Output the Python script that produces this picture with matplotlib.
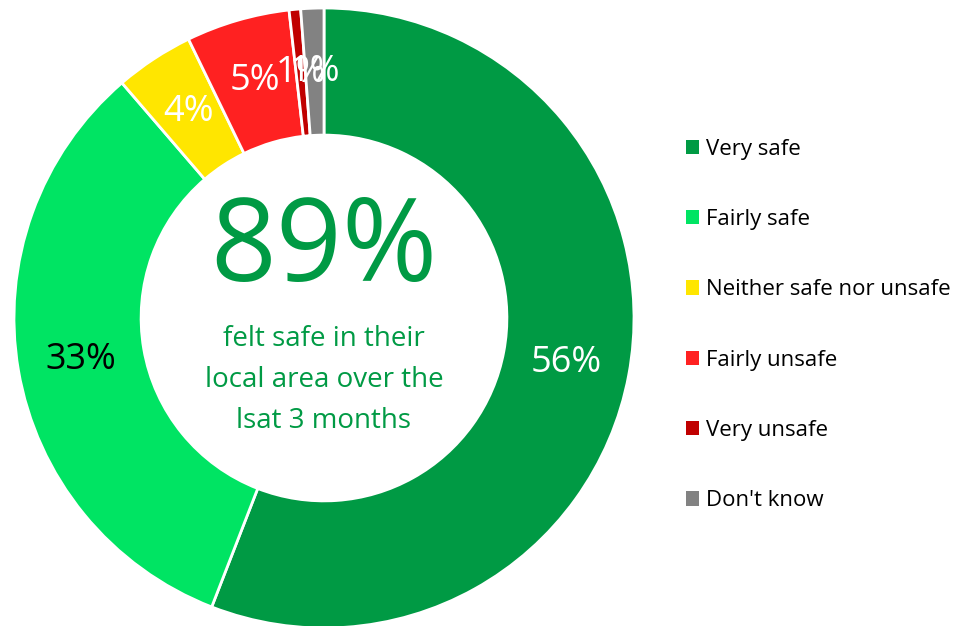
import matplotlib.pyplot as plt
from matplotlib.patches import Patch

plt.rcParams["font.family"] = ["Open Sans", "DejaVu Sans"]

categories = ["Very safe", "Fairly safe", "Neither safe nor unsafe",
              "Fairly unsafe", "Very unsafe", "Don't know"]
values = [55.9, 32.8, 4.1, 5.4, 0.6, 1.2]
colors = ["#009A44", "#00E463", "#FFE600", "#FF2121", "#C00000", "#828282"]
label_colors = ["white", "black", "white", "white", "white", "white"]
headline = "89%"
subtitle = "felt safe in their\nlocal area over the\nlsat 3 months"

fig = plt.figure(figsize=(9.62, 6.26), dpi=100)
ax = fig.add_axes([14 / 962, -2 / 626, 620 / 962, 620 / 626])

wedges, texts = ax.pie(
    values,
    colors=colors,
    startangle=90,
    counterclock=False,
    radius=1.0,
    wedgeprops=dict(width=0.41, edgecolor="white", linewidth=2),
    labels=[f"{v:.0f}%" for v in values],
    labeldistance=0.795,
    textprops=dict(fontsize=26),
)
for t, c in zip(texts, label_colors):
    t.set_color(c)
    t.set_horizontalalignment("center")
    t.set_verticalalignment("center")

ax.text(0, 0.215, headline, ha="center", va="center", fontsize=83, color="#009A44")
ax.text(0, -0.2, subtitle, ha="center", va="center", fontsize=20,
        color="#009A44", linespacing=1.6)
ax.set_xlim(-1, 1)
ax.set_ylim(-1, 1)
ax.set_aspect("equal")
ax.axis("off")

handles = [Patch(facecolor=c, edgecolor="none") for c in colors]
fig.legend(
    handles, categories,
    loc="center left", bbox_to_anchor=(666 / 962, 301 / 626),
    frameon=False, fontsize=16,
    handlelength=0.6, handleheight=0.6, handletextpad=0.3,
    labelspacing=2.22,
)

fig.savefig("out.png", dpi=100)
